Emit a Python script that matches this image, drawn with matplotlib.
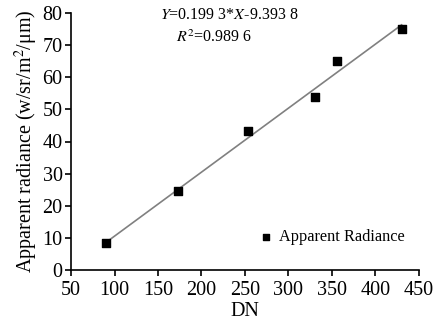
import numpy as np
import matplotlib
matplotlib.use("Agg")
import matplotlib.pyplot as plt

plt.rcParams['font.family'] = ['Liberation Serif', 'DejaVu Serif']
plt.rcParams['mathtext.fontset'] = 'stix'

dn = [90, 173, 253, 331, 356, 430]
radiance = [8.3, 24.7, 43.3, 53.7, 65.2, 75.1]
slope = 0.1993
intercept = -9.3938

fig = plt.figure(figsize=(4.39, 3.22), dpi=100)
ax = fig.add_axes([71 / 439, 52 / 322, 348 / 439, 257 / 322])

xfit = np.array([min(dn), max(dn)])
ax.plot(xfit, slope * xfit + intercept, color='#808080', lw=1.2, zorder=1)
ax.scatter(dn, radiance, marker='s', s=28, color='black', zorder=2,
           label='Apparent Radiance')

ax.set_xlim(50, 450)
ax.set_ylim(0, 80)
ax.set_xticks(np.arange(50, 451, 50))
ax.set_yticks(np.arange(0, 81, 10))
for s in ['top', 'right']:
    ax.spines[s].set_visible(False)
for s in ['left', 'bottom']:
    ax.spines[s].set_linewidth(1.2)
ax.tick_params(direction='out', length=4, width=1.2, labelsize=14.5, pad=2)
ax.tick_params(axis='x', pad=4)
ax.set_xlabel('DN', fontsize=14.5, labelpad=1)
ax.set_ylabel('Apparent radiance (w/sr/m$^2$/\u03bcm)', fontsize=14.5, labelpad=2)

ax.text(152, 79.4, r'$\it{Y}$=0.199 3*$\it{X}$-9.393 8', fontsize=11.5, va='center')
ax.text(171, 72.3, r'$\it{R}^2$=0.989 6', fontsize=11.5, va='center')

ax.legend(loc='lower right', bbox_to_anchor=(1.0, 0.04), frameon=False,
          fontsize=11.7, handlelength=0.8, handletextpad=0.4, markerscale=0.8)

fig.savefig('out.png', dpi=100)
